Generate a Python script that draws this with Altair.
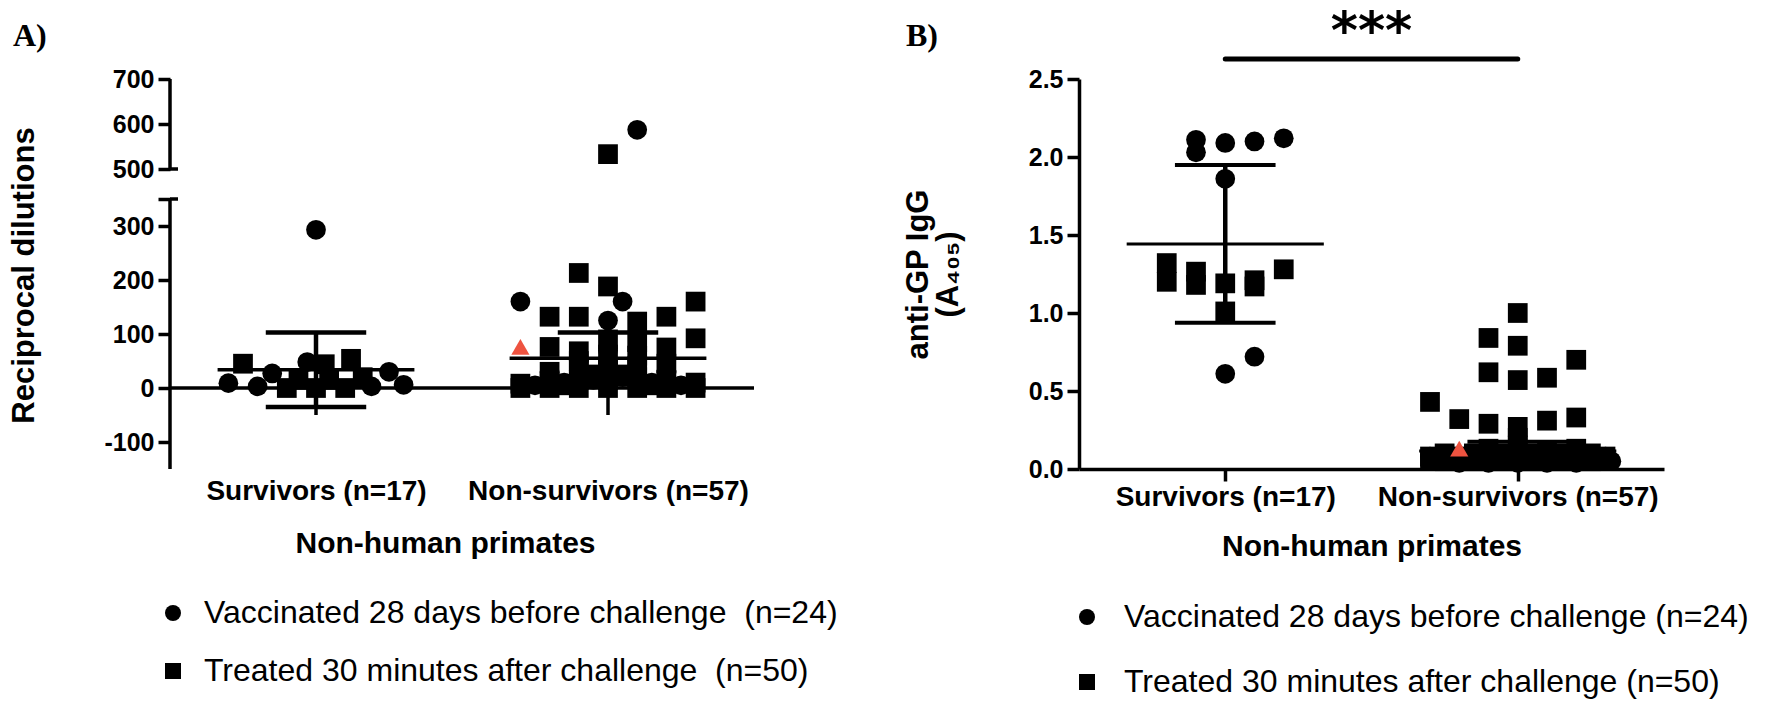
import altair as alt
import pandas as pd

# ---------------- values ----------------
CATEGORIES = ["Survivors (n=17)", "Non-survivors (n=57)"]
GROUP_POS = [1, 2]
LEGEND_A = ["Vaccinated 28 days before challenge\u00a0 (n=24)", "Treated 30 minutes after challenge\u00a0 (n=50)"]
LEGEND_B = ["Vaccinated 28 days before challenge (n=24)", "Treated 30 minutes after challenge (n=50)"]
HIGHLIGHT = "Highlighted animal"
TONES = ["normal", "highlight"]
PANEL_LABELS = ["A)", "B)"]
Y_TITLE_A = "Reciprocal dilutions"
Y_TITLE_B = ["anti-GP IgG", "(A\u2084\u2080\u2085)"]
X_TITLE = "Non-human primates"
SIG_LABEL = "***"

# Panel A - reciprocal dilutions (broken axis: -150..350 and 500..700)
A_TICKS_LOW = [-100, 0, 100, 200, 300]
A_TICKS_UP = [500, 600, 700]
A_SEGMENTS = [(-150, 350), (500, 700)]
A_SURV_VAC = [9, 3, 27, 48, 293, 3, 30, 6]
A_SURV_VAC_SPREAD = [-0.30, -0.20, -0.15, -0.03, 0.0, 0.19, 0.25, 0.30]
A_SURV_TRT = [45, 0, 0, 0, 54, 20, 44, 15, 15]
A_SURV_TRT_SPREAD = [-0.25, -0.10, 0.0, 0.10, 0.12, 0.16, 0.03, -0.06, 0.045]
A_NON_VAC = [587, 160, 160, 125, 5, 10, 15, 20, 10, 5, 30, 40, 30, 50, 55, 70]
A_NON_VAC_SPREAD = [0.10, -0.30, 0.05, 0.0, -0.25, -0.15, -0.05, 0.05, 0.15, 0.25,
                    -0.20, 0.0, 0.20, -0.10, 0.10, 0.0]
A_NON_TRT = [533, 213, 188, 132, 132, 132, 160, 92, 76, 123,
             0, 8, 0, 12, 30, 0, 15, 35, 50, 68, 0, 15, 35, 62, 90,
             0, 20, 40, 60, 85, 0, 15, 45, 75, 0, 10, 5, 5, 25, 25]
A_NON_TRT_SPREAD = [0.0, -0.10, 0.0, -0.20, -0.10, 0.20, 0.30, 0.30, -0.20, 0.10,
                    -0.3, -0.3, -0.2, -0.2, -0.2, -0.1, -0.1, -0.1, -0.1, -0.1, 0, 0, 0, 0, 0,
                    0.1, 0.1, 0.1, 0.1, 0.1, 0.2, 0.2, 0.2, 0.2, 0.3, 0.3, -0.15, 0.15, 0.05, -0.05]
A_NON_HIGHLIGHT = [76]
A_NON_HIGHLIGHT_SPREAD = [-0.30]
A_MEAN = [34, 55]
A_SD = [69, 48]

# Panel B - anti-GP IgG (A405)
B_TICKS = [0, 0.5, 1, 1.5, 2, 2.5]
B_SURV_VAC = [2.11, 2.03, 2.09, 2.10, 2.12, 1.86, 0.72, 0.61]
B_SURV_VAC_SPREAD = [-0.10, -0.10, 0.0, 0.10, 0.20, 0.0, 0.10, 0.0]
B_SURV_TRT = [1.32, 1.20, 1.265, 1.18, 1.19, 1.21, 1.17, 1.28, 1.01]
B_SURV_TRT_SPREAD = [-0.20, -0.20, -0.10, -0.10, 0.0, 0.10, 0.10, 0.20, 0.0]
B_NON_VAC = [0.04, 0.04, 0.04, 0.04, 0.04, 0.05, 0.06, 0.06, 0.06, 0.06, 0.06, 0.06,
             0.08, 0.08, 0.08, 0.08]
B_NON_VAC_SPREAD = [-0.2, -0.1, 0.0, 0.1, 0.2, 0.32, -0.25, -0.15, -0.05, 0.05, 0.15, 0.25,
                    -0.3, -0.1, 0.1, 0.3]
B_NON_TRT = [1.00, 0.84, 0.79, 0.62, 0.57, 0.585, 0.70, 0.43, 0.32, 0.29, 0.31, 0.33, 0.27,
             0.20, 0.15, 0.13, 0.12, 0.13,
             0.08, 0.08, 0.08, 0.08, 0.08, 0.08, 0.08,
             0.05, 0.05, 0.05, 0.05, 0.05, 0.05,
             0.10, 0.10, 0.10, 0.10, 0.10, 0.10,
             0.06, 0.06, 0.06]
B_NON_TRT_SPREAD = [0.0, -0.1, 0.0, -0.1, 0.0, 0.1, 0.2, -0.3, -0.2, -0.1, 0.1, 0.2, 0.0,
                    0.0, 0.0, -0.1, 0.1, 0.2,
                    -0.3, -0.2, -0.1, 0.0, 0.1, 0.2, 0.3,
                    -0.25, -0.15, -0.05, 0.05, 0.15, 0.25,
                    -0.25, -0.15, -0.05, 0.05, 0.15, 0.25,
                    -0.3, 0.0, 0.3]
B_NON_HIGHLIGHT = [0.13]
B_NON_HIGHLIGHT_SPREAD = [-0.20]
B_MEAN = [1.443, 0.115]
B_SD = [0.505, 0.06]

# ---------------- styling ----------------
SANS = "Liberation Sans"
SERIF = "Liberation Serif"
RED = "#EE5340"
X_DOMAIN = [0.5, 2.5]
MEAN_HALF = 0.337
CAP_HALF = 0.172
WA, WB, H = 584, 585, 390
H_LOW, GAP, H_UP = 270, 30, 90   # pixel heights of the two axis segments of panel A

LOW0, LOW1 = A_SEGMENTS[0]
UP0, UP1 = A_SEGMENTS[1]
K_LOW = H_LOW / (LOW1 - LOW0)
K_UP = H_UP / (UP1 - UP0)
SPLIT = (LOW1 + UP0) / 2


def broken(v):
    """Position of a panel-A value on the broken axis (pixels from the bottom)."""
    if v <= SPLIT:
        return (v - LOW0) * K_LOW
    return H_LOW + GAP + (v - UP0) * K_UP


def broken_expr(field):
    return (f"datum.{field} <= {SPLIT} ? (datum.{field} - ({LOW0})) * {K_LOW} : "
            f"{H_LOW + GAP} + (datum.{field} - {UP0}) * {K_UP}")


INVERSE_EXPR = (f"datum.value <= {H_LOW + GAP / 2} ? round(datum.value / {K_LOW} + ({LOW0})) : "
                f"round((datum.value - {H_LOW + GAP}) / {K_UP} + {UP0})")


def rows(group, kind, tone, values, spreads):
    return [dict(group=group, kind=kind, tone=tone, value=v, spread=s) for v, s in zip(values, spreads)]


def points_df(leg, sv, svs, st, sts, nv, nvs, nt, nts, nh, nhs):
    recs = []
    recs += rows(1, leg[0], TONES[0], sv, svs)
    recs += rows(2, leg[0], TONES[0], nv, nvs)
    recs += rows(1, leg[1], TONES[0], st, sts)
    recs += rows(2, leg[1], TONES[0], nt, nts)
    recs += rows(2, HIGHLIGHT, TONES[1], nh, nhs)
    return pd.DataFrame(recs)


pts_A = points_df(LEGEND_A, A_SURV_VAC, A_SURV_VAC_SPREAD, A_SURV_TRT, A_SURV_TRT_SPREAD,
                  A_NON_VAC, A_NON_VAC_SPREAD, A_NON_TRT, A_NON_TRT_SPREAD,
                  A_NON_HIGHLIGHT, A_NON_HIGHLIGHT_SPREAD)
pts_B = points_df(LEGEND_B, B_SURV_VAC, B_SURV_VAC_SPREAD, B_SURV_TRT, B_SURV_TRT_SPREAD,
                  B_NON_VAC, B_NON_VAC_SPREAD, B_NON_TRT, B_NON_TRT_SPREAD,
                  B_NON_HIGHLIGHT, B_NON_HIGHLIGHT_SPREAD)
err_A = pd.DataFrame({"group": GROUP_POS, "mean": A_MEAN, "sd": A_SD})
err_B = pd.DataFrame({"group": GROUP_POS, "mean": B_MEAN, "sd": B_SD})
cats = pd.DataFrame({"group": GROUP_POS, "label": CATEGORIES})
sig = pd.DataFrame({"g1": [GROUP_POS[0]], "g2": [GROUP_POS[1]], "label": [SIG_LABEL]})
x_line = pd.DataFrame({"x0": [X_DOMAIN[0]], "x1": [X_DOMAIN[1]], "v": [0]})
segs_A = pd.DataFrame({"lo": [s[0] for s in A_SEGMENTS], "hi": [s[1] for s in A_SEGMENTS]})
breaks_A = pd.DataFrame({"v": [A_SEGMENTS[0][1], A_SEGMENTS[1][0]]})

XS = alt.Scale(domain=X_DOMAIN, nice=False, zero=False)
YS_A = alt.Scale(domain=[0, H_LOW + GAP + H_UP], nice=False, zero=False)
YS_B = alt.Scale(domain=[B_TICKS[0], B_TICKS[-1]], nice=False, zero=False)

label_expr = f"datum.value == 1 ? '{CATEGORIES[0]}' : '{CATEGORIES[1]}'"

Y_COMMON = dict(grid=False, tickWidth=3.5, tickSize=12, tickColor="black", labelPadding=4,
                labelFont=SANS, labelFontSize=25, labelFontWeight="bold", labelColor="black",
                labelFlush=False, labelOverlap=False, titleFont=SANS, titleFontSize=31,
                titleFontWeight="bold", titleColor="black", titleAngle=270, titleAlign="center",
                titleBaseline="alphabetic", titleLimit=1000)
X_COMMON = dict(values=GROUP_POS, labelExpr=label_expr, grid=False, labelFont=SANS, labelFontSize=28,
                labelFontWeight="bold", labelColor="black", labelFlush=False, labelOverlap=False,
                labelBound=False, labelLimit=600, title=X_TITLE, titleFont=SANS, titleFontSize=30,
                titleFontWeight="bold", titleColor="black", titleAlign="center", titleBaseline="top",
                titleLimit=1000)

tick_pos_A = [broken(v) for v in A_TICKS_LOW] + [broken(LOW1)] + [broken(v) for v in A_TICKS_UP]
Y_AXIS_A = alt.Axis(values=tick_pos_A, domain=False,
                    labelExpr=f"abs(datum.value - {broken(LOW1)}) < 0.5 ? '' : '' + ({INVERSE_EXPR})",
                    title=Y_TITLE_A, titleX=-137, titleY=196, **Y_COMMON)
X_AXIS_A = alt.Axis(domain=False, ticks=False, tickSize=0, labelPadding=8, titleX=275, titleY=59, **X_COMMON)
Y_AXIS_B = alt.Axis(values=B_TICKS, format=".1f", domain=True, domainWidth=3.5, domainColor="black",
                    title=Y_TITLE_B, titleX=-152, titleY=195, titleLineHeight=30, **Y_COMMON)
X_AXIS_B = alt.Axis(domain=True, domainWidth=3.5, domainColor="black", ticks=True, tickSize=12,
                    tickWidth=3.5, tickColor="black", labelPadding=2, titleY=62, **X_COMMON)


def legend_def(names, lx, ly, row_pad, offset):
    return alt.Legend(values=names, orient="none", legendX=lx, legendY=ly, title=None,
                      direction="vertical", labelFont=SANS, labelFontSize=32, labelColor="black",
                      labelLimit=1000, symbolSize=256, symbolFillColor="black", symbolStrokeColor="black",
                      symbolStrokeWidth=0, rowPadding=row_pad, labelOffset=offset)


def panel(pts, err, ys, xaxis, yaxis, ycalc, legend_names, legend, weights):
    """Layers shared by both panels. ycalc maps a field name to a y-position expression."""
    def X(f):
        return alt.X(f, type="quantitative", scale=XS, axis=xaxis)

    def Y(f):
        return alt.Y(f, type="quantitative", scale=ys, axis=yaxis)

    w_vert, w_cap, w_mean = weights
    base = alt.Chart(err).transform_calculate(
        lo="datum.mean - datum.sd", hi="datum.mean + datum.sd",
        cl=f"datum.group - {CAP_HALF}", cr=f"datum.group + {CAP_HALF}",
        ml=f"datum.group - {MEAN_HALF}", mr=f"datum.group + {MEAN_HALF}",
        mean_y=ycalc("mean"),
    ).transform_calculate(lo_y=ycalc("lo"), hi_y=ycalc("hi"))
    vert = base.mark_rule(color="black", strokeWidth=w_vert).encode(x=X("group"), y=Y("lo_y"), y2="hi_y")
    cap_hi = base.mark_rule(color="black", strokeWidth=w_cap).encode(x=X("cl"), x2="cr", y=Y("hi_y"))
    cap_lo = base.mark_rule(color="black", strokeWidth=w_cap).encode(x=X("cl"), x2="cr", y=Y("lo_y"))
    mean = base.mark_rule(color="black", strokeWidth=w_mean).encode(x=X("ml"), x2="mr", y=Y("mean_y"))

    kinds = [legend_names[0], legend_names[1], HIGHLIGHT]
    points = alt.Chart(pts).transform_calculate(
        xpos="datum.group + datum.spread", ypos=ycalc("value")
    ).mark_point(filled=True, opacity=1, color="black", strokeWidth=0).encode(
        x=X("xpos"),
        y=Y("ypos"),
        shape=alt.Shape("kind:N", scale=alt.Scale(domain=kinds, range=["circle", "square", "triangle-up"]),
                        legend=legend),
        color=alt.Color("tone:N", scale=alt.Scale(domain=TONES, range=["black", RED]), legend=None),
        size=alt.Size("tone:N", scale=alt.Scale(domain=TONES, range=[390, 330]), legend=None),
    )
    return X, Y, [vert, cap_hi, cap_lo, mean, points]


# ---------------- Panel A ----------------
XA, YA, layers_A = panel(pts_A, err_A, YS_A, X_AXIS_A, Y_AXIS_A, broken_expr, LEGEND_A,
                         legend_def(LEGEND_A, -13, 518, 26, 15), (4.5, 4.5, 3.5))

x_line_A = alt.Chart(x_line).transform_calculate(y=broken_expr("v")).mark_rule(
    color="black", strokeWidth=3.5).encode(x=XA("x0"), x2="x1", y=YA("y"))
cat_ticks_A = alt.Chart(cats).transform_calculate(v="0").transform_calculate(y=broken_expr("v")).mark_rule(
    color="black", strokeWidth=3.5, y2Offset=27).encode(x=XA("group"), y=YA("y"), y2="y")
y_segs_A = alt.Chart(segs_A).transform_calculate(y0=broken_expr("lo"), y1=broken_expr("hi")).mark_rule(
    color="black", strokeWidth=3.5).encode(y=YA("y0"), y2="y1", x=alt.value(0))
y_breaks_A = alt.Chart(breaks_A).transform_calculate(y=broken_expr("v")).mark_rule(
    color="black", strokeWidth=3.5).encode(y=YA("y"), x=alt.value(0), x2=alt.value(8))
label_A = alt.Chart(pd.DataFrame({"t": [PANEL_LABELS[0]]})).mark_text(
    font=SERIF, fontSize=32, fontWeight="bold", align="left", baseline="alphabetic", color="black"
).encode(text="t:N", x=alt.value(-157), y=alt.value(-33))

panel_A = alt.layer(y_segs_A, x_line_A, cat_ticks_A, *layers_A, y_breaks_A, label_A).properties(
    width=WA, height=H)

# ---------------- Panel B ----------------
XB, YB, layers_B = panel(pts_B, err_B, YS_B, X_AXIS_B, Y_AXIS_B, lambda f: f"datum.{f}", LEGEND_B,
                         legend_def(LEGEND_B, -8, 522, 33, 21), (4.5, 4, 3))

label_B = alt.Chart(pd.DataFrame({"t": [PANEL_LABELS[1]]})).mark_text(
    font=SERIF, fontSize=32, fontWeight="bold", align="left", baseline="alphabetic", color="black"
).encode(text="t:N", x=alt.value(-173), y=alt.value(-33))
sig_line = alt.Chart(sig).mark_rule(color="black", strokeWidth=5, strokeCap="round").encode(
    x=XB("g1"), x2="g2", y=alt.value(-20))
sig_text = alt.Chart(sig).transform_calculate(mid="(datum.g1 + datum.g2) / 2").mark_text(
    font="DejaVu Sans", fontSize=52, fontWeight="bold", align="center", baseline="alphabetic", color="black"
).encode(x=XB("mid"), y=alt.value(-31), text="label:N")

panel_B = alt.layer(*layers_B, label_B, sig_line, sig_text).properties(width=WB, height=H)

chart = alt.hconcat(panel_A, panel_B, spacing=325, bounds="flush").resolve_scale(
    shape="independent", color="independent", size="independent", x="independent", y="independent"
).properties(
    padding={"left": 8, "top": 6, "right": 5, "bottom": 5}
).configure_view(stroke=None)

chart.save("out.html", embed_options={"renderer": "svg", "actions": False})
